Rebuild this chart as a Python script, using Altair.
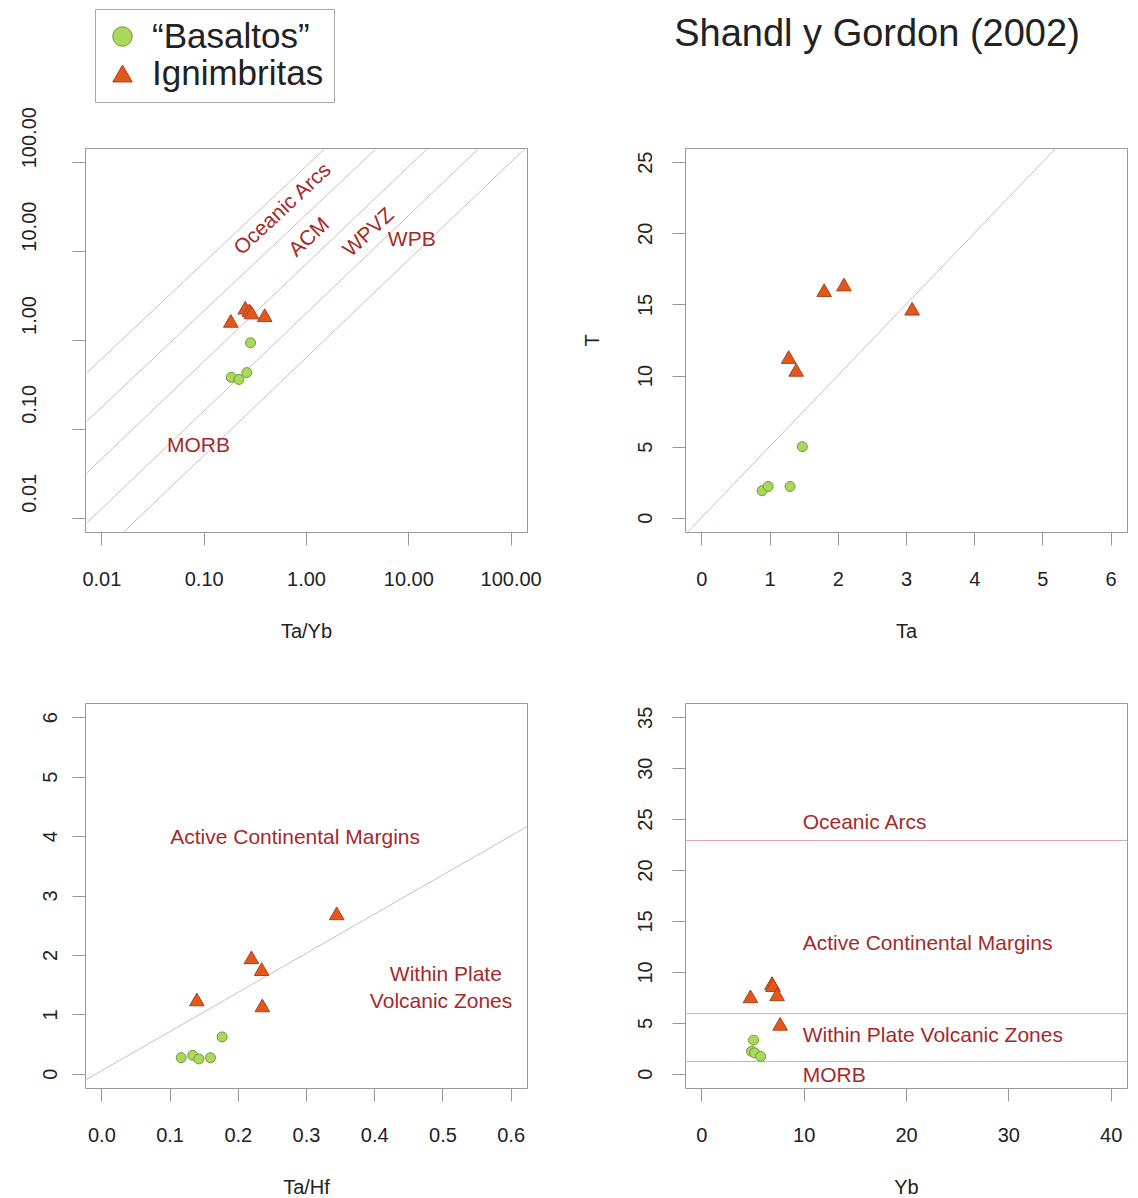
import altair as alt
import pandas as pd

FONT = "Liberation Sans"
TXT = "#A52A2A"
LINE = "#D6BABA"

GROUPS = ["“Basaltos”", "Ignimbritas"]
FILLS = ["#A9D85B", "#E2571C"]
STROKES = ["#6F9A33", "#A8441C"]
SHAPES = ["circle", "triangle-up"]

# ---------- Panel 1: Ta/Yb vs Th/Yb (log-log) ----------
p1_bas_x = [0.287, 0.186, 0.221, 0.264]
p1_bas_y = [0.93, 0.38, 0.36, 0.43]
p1_ign_x = [0.184, 0.255, 0.280, 0.293, 0.395]
p1_ign_y = [1.64, 2.31, 2.16, 2.04, 1.90]
p1_line_id = ["a", "a", "b", "b", "c", "c", "d", "d", "e", "e"]
p1_line_x = [0.00724, 1.503, 0.00724, 4.775, 0.00724, 15.10, 0.00724, 47.86, 0.01667, 135.8]
p1_line_y = [0.4285, 139.6, 0.1227, 139.6, 0.03214, 139.6, 0.00881, 139.6, 0.00698, 139.6]
p1_lab = ["Oceanic Arcs", "ACM", "WPVZ", "WPB", "MORB"]
p1_lab_x = [0.593, 1.08, 4.11, 10.8, 0.0889]
p1_lab_y = [29.5, 14.2, 16.1, 13.2, 0.0643]
p1_lab_ang = [317, 317, 317, 0, 0]
p1_ticks = [0.01, 0.1, 1, 10, 100]

# ---------- Panel 2: Ta vs T ----------
p2_bas_x = [1.48, 0.89, 0.98, 1.30]
p2_bas_y = [5.0, 1.9, 2.2, 2.2]
p2_ign_x = [1.80, 2.09, 3.09, 1.28, 1.39]
p2_ign_y = [16.0, 16.4, 14.7, 11.3, 10.4]
p2_line_x = [-0.2, 5.2]
p2_line_y = [-1.0, 26.0]

# ---------- Panel 3: Ta/Hf ----------
p3_bas_x = [0.177, 0.117, 0.134, 0.143, 0.160]
p3_bas_y = [0.62, 0.27, 0.31, 0.25, 0.27]
p3_ign_x = [0.345, 0.220, 0.235, 0.140, 0.236]
p3_ign_y = [2.70, 1.96, 1.76, 1.25, 1.15]
p3_line_x = [-0.024, 0.624]
p3_line_y = [-0.11, 4.16]
p3_lab = ["Active Continental Margins", "Within Plate", "Volcanic Zones"]
p3_lab_x = [0.284, 0.505, 0.498]
p3_lab_y = [3.97, 1.66, 1.21]

# ---------- Panel 4: Yb ----------
p4_bas_x = [5.1, 4.9, 5.2, 5.8]
p4_bas_y = [3.3, 2.2, 2.05, 1.7]
p4_ign_x = [6.9, 7.0, 7.4, 4.8, 7.7]
p4_ign_y = [8.9, 8.7, 7.8, 7.6, 4.9]
p4_hlines = [22.9, 5.9, 1.2]
p4_lab = ["Oceanic Arcs", "Active Continental Margins", "Within Plate Volcanic Zones", "MORB"]
p4_lab_x = [9.9, 9.9, 9.9, 9.9]
p4_lab_y = [24.6, 12.7, 3.7, -0.2]

W, H = 442, 384

LEGEND = alt.Legend(
    orient="none", legendX=10, legendY=-139, title=None,
    labelFontSize=35, labelFont=FONT, labelColor="#222", labelLimit=400,
    symbolSize=380, symbolStrokeWidth=1, padding=10, rowPadding=1,
    labelOffset=12, strokeColor="#AAAAAA",
)


def points_df(bx, by, ix, iy):
    rows = [{"x": a, "y": b, "grp": GROUPS[0]} for a, b in zip(bx, by)]
    rows += [{"x": a, "y": b, "grp": GROUPS[1]} for a, b in zip(ix, iy)]
    return pd.DataFrame(rows)


def point_layers(df, xenc, yenc):
    enc = dict(
        x=xenc, y=yenc,
        fill=alt.Fill("grp:N", scale=alt.Scale(domain=GROUPS, range=FILLS), legend=LEGEND),
        stroke=alt.Stroke("grp:N", scale=alt.Scale(domain=GROUPS, range=STROKES), legend=LEGEND),
        shape=alt.Shape("grp:N", scale=alt.Scale(domain=GROUPS, range=SHAPES), legend=LEGEND),
    )
    base = alt.Chart(df).mark_point(filled=True, opacity=1, fillOpacity=1, strokeWidth=1)
    circ = base.transform_filter(alt.datum.grp == GROUPS[0]).encode(size=alt.value(100), **enc)
    tri = base.transform_filter(alt.datum.grp == GROUPS[1]).encode(size=alt.value(215), **enc)
    return [circ, tri]


def text_layer(labels, xs, ys, xenc, yenc, align="center", angles=None):
    df = pd.DataFrame({"t": labels, "x": xs, "y": ys,
                       "a": angles if angles is not None else [0] * len(labels)})
    return alt.Chart(df).mark_text(
        font=FONT, fontSize=21, color=TXT, align=align, baseline="middle"
    ).encode(x=xenc, y=yenc, text="t:N", angle=alt.Angle("a:Q", scale=None))


# ---- Panel 1
sx1 = alt.Scale(type="log", domain=[0.006918, 144.5], nice=False)
sy1 = alt.Scale(type="log", domain=[0.006918, 144.5], nice=False)
x1 = alt.X("x:Q", scale=sx1, axis=alt.Axis(values=p1_ticks, format=".2f", title="Ta/Yb"))
y1 = alt.Y("y:Q", scale=sy1, axis=alt.Axis(values=p1_ticks, format=".2f", title=None,
                                            labelOffset=-25, labelPadding=33))
l1 = alt.Chart(pd.DataFrame({"id": p1_line_id, "x": p1_line_x, "y": p1_line_y})).mark_line(
    color=LINE, strokeWidth=1, clip=True).encode(x=x1, y=y1, detail="id:N")
p1 = alt.layer(
    l1, text_layer(p1_lab, p1_lab_x, p1_lab_y, x1, y1, angles=p1_lab_ang),
    *point_layers(points_df(p1_bas_x, p1_bas_y, p1_ign_x, p1_ign_y), x1, y1)
).properties(width=W, height=H)

# ---- Panel 2
x2 = alt.X("x:Q", scale=alt.Scale(domain=[-0.24, 6.24], nice=False, zero=False),
           axis=alt.Axis(values=[0, 1, 2, 3, 4, 5, 6], format="d", title="Ta"))
y2 = alt.Y("y:Q", scale=alt.Scale(domain=[-1, 26], nice=False, zero=False),
           axis=alt.Axis(values=[0, 5, 10, 15, 20, 25], format="d", title="T"))
l2 = alt.Chart(pd.DataFrame({"x": p2_line_x, "y": p2_line_y})).mark_line(
    color=LINE, strokeWidth=1, clip=True).encode(x=x2, y=y2)
p2 = alt.layer(
    l2, *point_layers(points_df(p2_bas_x, p2_bas_y, p2_ign_x, p2_ign_y), x2, y2)
).properties(
    width=W, height=H,
    title=alt.TitleParams("Shandl y Gordon (2002)", fontSize=38, font=FONT, fontWeight="normal",
                          color="#222", anchor="middle", dx=-29, offset=64, baseline="alphabetic"),
)

# ---- Panel 3
x3 = alt.X("x:Q", scale=alt.Scale(domain=[-0.024, 0.624], nice=False, zero=False),
           axis=alt.Axis(values=[0, 0.1, 0.2, 0.3, 0.4, 0.5, 0.6], format=".1f", title="Ta/Hf"))
y3 = alt.Y("y:Q", scale=alt.Scale(domain=[-0.24, 6.24], nice=False, zero=False),
           axis=alt.Axis(values=[0, 1, 2, 3, 4, 5, 6], format="d", title=None, labelPadding=12))
l3 = alt.Chart(pd.DataFrame({"x": p3_line_x, "y": p3_line_y})).mark_line(
    color=LINE, strokeWidth=1, clip=True).encode(x=x3, y=y3)
p3 = alt.layer(
    l3, text_layer(p3_lab, p3_lab_x, p3_lab_y, x3, y3),
    *point_layers(points_df(p3_bas_x, p3_bas_y, p3_ign_x, p3_ign_y), x3, y3)
).properties(width=W, height=H + 1)

# ---- Panel 4
x4 = alt.X("x:Q", scale=alt.Scale(domain=[-1.6, 41.6], nice=False, zero=False),
           axis=alt.Axis(values=[0, 10, 20, 30, 40], format="d", title="Yb"))
y4 = alt.Y("y:Q", scale=alt.Scale(domain=[-1.4, 36.4], nice=False, zero=False),
           axis=alt.Axis(values=[0, 5, 10, 15, 20, 25, 30, 35], format="d", title=None))
l4 = alt.Chart(pd.DataFrame({"y": p4_hlines})).mark_rule(
    color="#DBA9A9", strokeWidth=1).encode(y=y4)
p4 = alt.layer(
    l4, text_layer(p4_lab, p4_lab_x, p4_lab_y, x4, y4, align="left"),
    *point_layers(points_df(p4_bas_x, p4_bas_y, p4_ign_x, p4_ign_y), x4, y4)
).properties(width=W, height=H + 1)

chart = alt.concat(
    p1, p2, p3, p4, columns=2, bounds="flush", spacing={"row": 171, "column": 158}
).properties(
    padding={"left": 10, "top": 0, "right": 0, "bottom": 0}
).configure_view(
    stroke="#999999", strokeWidth=1
).configure_axis(
    domain=False, grid=False, tickColor="#999999", tickSize=13, tickWidth=1,
    labelFont=FONT, labelFontSize=20, labelColor="#222222",
    titleFont=FONT, titleFontSize=20, titleFontWeight="normal", titleColor="#222222",
).configure_axisX(
    labelPadding=24, titlePadding=32,
).configure_axisY(
    labelAngle=270, labelAlign="center", labelBaseline="bottom", labelPadding=17, titlePadding=33,
)

chart.save("out.html", embed_options={"renderer": "svg", "actions": False})
